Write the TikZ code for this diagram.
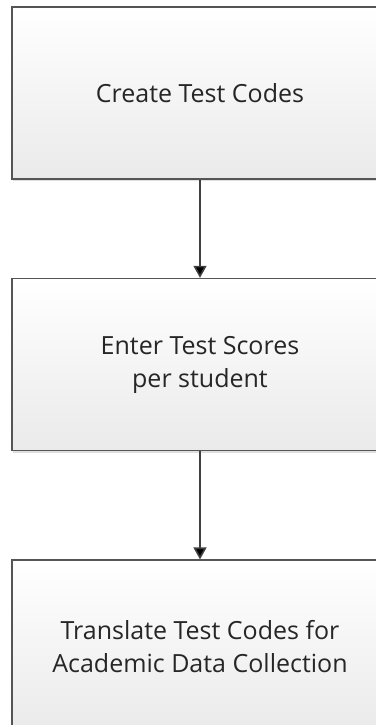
\documentclass[tikz,border=0pt]{standalone}
\usepackage{fontspec}
\setmainfont{Open Sans}
\usetikzlibrary{positioning,arrows.meta,shadows}

\definecolor{boxline}{HTML}{555555}
\definecolor{boxbottom}{HTML}{EAEAEA}
\definecolor{flowline}{HTML}{404040}
\definecolor{labeltext}{HTML}{262626}

\begin{document}
\begin{tikzpicture}[
    x = 1pt, y = 1pt,
    > = {Triangle[length=12pt, width=13pt]},
    process/.style={rectangle, draw=boxline, line width=1.6pt,
        top color=white, bottom color=boxbottom,
        drop shadow={shadow xshift=1pt, shadow yshift=-2pt, opacity=0.25},
        minimum width=376pt, minimum height=172pt,
        align=center, text=labeltext,
        font=\fontsize{25}{33}\selectfont},
    flow/.style={->, draw=flowline, line width=1.6pt}
]
    \useasboundingbox (0,0) rectangle (375,-725);

    \node[process] (create) at (200,-93) {Create Test Codes};
    \node[process, below=98pt of create] (enter) {Enter Test Scores\\per student};
    \node[process, below=108pt of enter] (translate) {Translate Test Codes for\\Academic Data Collection};

    \path[flow]
        (create) edge (enter)
        (enter) edge (translate);
\end{tikzpicture}
\end{document}
